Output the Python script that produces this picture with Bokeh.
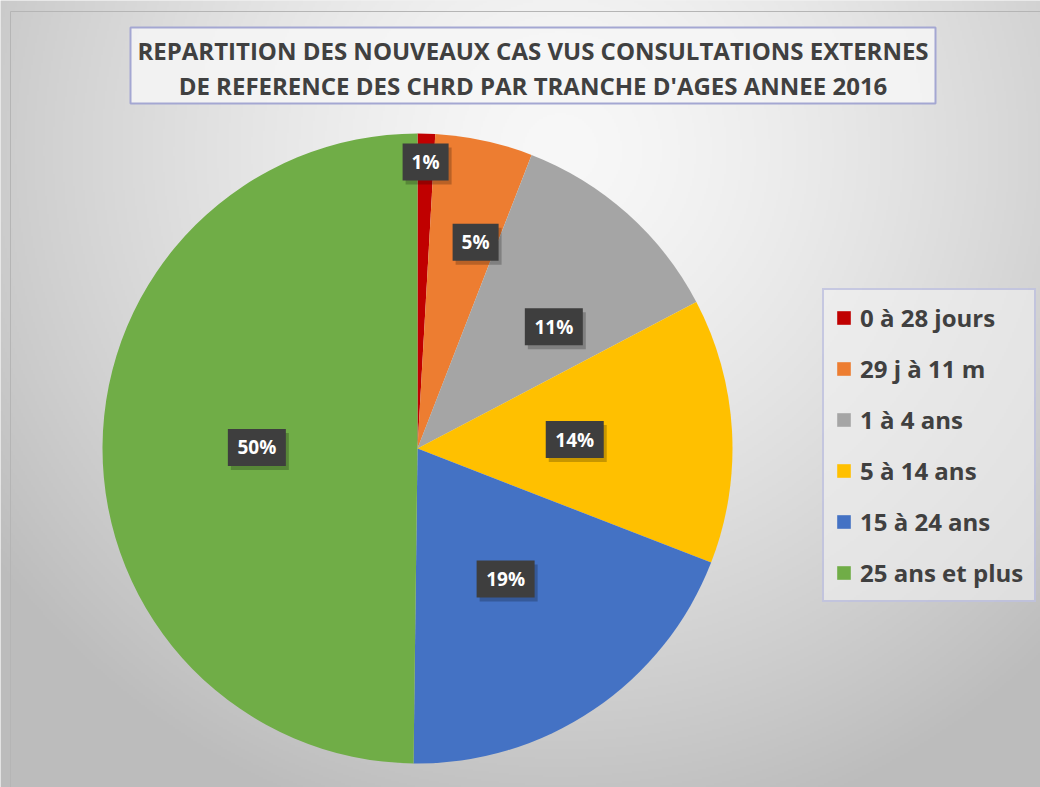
import numpy as np
from bokeh.plotting import figure
from bokeh.models import Range1d, Legend, LegendItem, ColumnDataSource
from bokeh.core.properties import value
from bokeh.embed import file_html
from bokeh.resources import INLINE

# ---- data ----
categories = ["0 à 28 jours", "29 j à 11 m", "1 à 4 ans", "5 à 14 ans", "15 à 24 ans", "25 ans et plus"]
shares = [0.9, 5.0, 11.4, 13.6, 19.3, 49.8]
pct_labels = ["1%", "5%", "11%", "14%", "19%", "50%"]
colors = ["#c00000", "#ed7d31", "#a5a5a5", "#ffc000", "#4472c4", "#70ad47"]
title_lines = ["REPARTITION DES NOUVEAUX CAS VUS CONSULTATIONS EXTERNES",
               "DE REFERENCE DES CHRD PAR TRANCHE D'AGES ANNEE 2016"]

# label placement style (fraction of radius, angular nudge in degrees)
label_rfrac = [0.91, 0.68, 0.58, 0.50, 0.50, 0.51]
label_nudge = [0.0, -3.5, -6.5, 0.0, 0.0, 0.0]

W, H = 1040, 787
FONT = "Open Sans"

p = figure(width=W, height=H, output_backend="svg", toolbar_location=None,
           x_range=Range1d(0, W), y_range=Range1d(0, H), min_border=0,
           x_axis_type=None, y_axis_type=None)
p.grid.visible = False
p.outline_line_color = None
p.background_fill_color = "#e4e4e4"
p.border_fill_color = "#e4e4e4"

# ---- background gradient ----
gw, gh = 520, 394
jj, ii = np.meshgrid(np.arange(gw), np.arange(gh))
xr = (jj + 0.5) * W / gw
yr = H - (ii + 0.5) * H / gh
d = np.sqrt(((xr - 560) / 720.0) ** 2 + ((yr - 150) / 720.0) ** 2)
c = np.clip(248 - 62 * d ** 1.4, 188, 248).astype(np.uint32)
img = (255 << 24) | (c << 16) | (c << 8) | c
p.image_rgba(image=[img.astype(np.uint32)], x=0, y=0, dw=W, dh=H)

# chart border
p.quad(left=10, right=W + 5, top=H - 11, bottom=-5, fill_color=None,
       line_color="#b5b5b5", line_width=1)

# ---- pie ----
cx, cy, R = 417.0, H - 448.0, 315.0
frac = np.array(shares) / sum(shares)
cum = np.concatenate([[0], np.cumsum(frac)])
start = np.pi / 2 - 2 * np.pi * cum[1:]
end = np.pi / 2 - 2 * np.pi * cum[:-1]
src = ColumnDataSource(dict(start=start, end=end, color=colors, cat=categories))
wedges = p.wedge(x=cx, y=cy, radius=R, start_angle="start", end_angle="end",
                 fill_color="color", line_color=None, source=src)

# ---- data labels ----
mid = np.pi / 2 - 2 * np.pi * (cum[:-1] + cum[1:]) / 2 + np.radians(label_nudge)
lx = cx + R * np.array(label_rfrac) * np.cos(mid)
ly = cy + R * np.array(label_rfrac) * np.sin(mid)
bw = [58 if len(t) > 2 else 46 for t in pct_labels]
p.rect(x=lx + 3, y=ly - 4, width=bw, height=37, width_units="screen", height_units="screen",
       fill_color="#000000", fill_alpha=0.22, line_color=None)
p.rect(x=lx, y=ly, width=bw, height=37, width_units="screen", height_units="screen",
       fill_color="#3e3e3e", line_color=None)
p.text(x=lx, y=ly, text=pct_labels, text_color="white", text_font=value(FONT),
       text_font_style="bold", text_font_size="19px", text_align="center",
       text_baseline="middle")

# ---- title box ----
p.quad(left=130, right=935, top=H - 27, bottom=H - 103, fill_color="#f6f6f6", fill_alpha=0.85,
       line_color="#a4a7d2", line_width=2)
p.text(x=[532.5, 532.5], y=[H - 50, H - 85], text=title_lines, text_color="#404040",
       text_font=value(FONT), text_font_style="bold", text_font_size="24px",
       text_align="center", text_baseline="middle")

# ---- legend ----
items = [LegendItem(label=categories[i], renderers=[wedges], index=i) for i in range(len(categories))]
legend = Legend(items=items, location=(822, H - 602), orientation="vertical",
                label_text_font=FONT, label_text_font_style="bold", label_text_font_size="24px",
                label_text_color="#404040", glyph_width=17, glyph_height=17,
                label_standoff=8, spacing=18, padding=11, margin=0,
                border_line_color="#a0a4d6", border_line_width=2,
                background_fill_color="#f2f2f2", background_fill_alpha=0.6)
p.add_layout(legend, "center")

open("out.html", "w").write(file_html(p, INLINE))
